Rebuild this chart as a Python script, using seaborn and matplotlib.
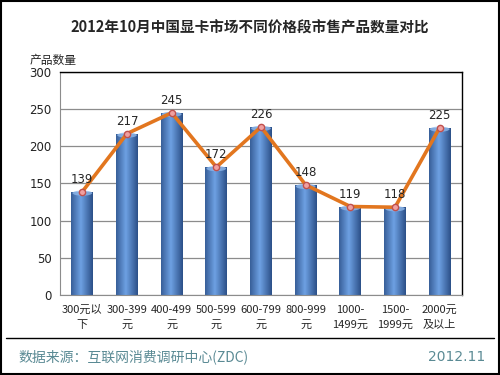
import numpy as np
import pandas as pd
import matplotlib
matplotlib.use("Agg")
import matplotlib.pyplot as plt
import seaborn as sns
from matplotlib.patches import Rectangle, Ellipse

categories = ["300元以\n下", "300-399\n元", "400-499\n元", "500-599\n元", "600-799\n元",
              "800-999\n元", "1000-\n1499元", "1500-\n1999元", "2000元\n及以上"]
counts = [139, 217, 245, 172, 226, 148, 119, 118, 225]

sns.set_style("white")
plt.rcParams['font.family'] = ['Noto Sans CJK SC', 'DejaVu Sans']

df = pd.DataFrame({"cat": categories, "n": counts})

fig = plt.figure(figsize=(5, 3.75), dpi=100)
ax = fig.add_axes([0.12, 0.2133, 0.804, 0.595])

sns.barplot(data=df, x="cat", y="n", color="#4a7ab8", width=0.49, ax=ax, zorder=2)

# gradient fill over each bar
grad = np.linspace(0, 1, 64)
shade = np.clip(1 - np.abs(grad - 0.45) * 1.8, 0, 1)
dark = np.array([0.17, 0.31, 0.53])
light = np.array([0.43, 0.63, 0.89])
img = (dark[None, :] + (light - dark)[None, :] * shade[:, None])[None, :, :]
for p in ax.patches:
    x0, w, h = p.get_x(), p.get_width(), p.get_height()
    p.set_visible(False)
    im = ax.imshow(img, extent=[x0, x0 + w, 0, h], aspect="auto", zorder=2)
    im.set_clip_path(Rectangle((x0, 0), w, h, transform=ax.transData))
    ax.add_patch(Ellipse((x0 + w / 2, h - 2), w * 0.9, 7,
                         color="#8fb8ea", alpha=0.8, zorder=3, lw=0))

sns.lineplot(x=np.arange(len(counts)), y=counts, color="#e2761f", lw=2.6, ax=ax,
             marker="o", markersize=4.5, markerfacecolor="#f0a0a0",
             markeredgecolor="#c0504d", markeredgewidth=1, zorder=4)

for i, v in enumerate(counts):
    ax.text(i, v + 8, str(v), ha="center", va="bottom", fontsize=8.5,
            family="DejaVu Sans", zorder=5)

ax.set_ylim(0, 300)
ax.set_xlim(-0.5, len(counts) - 0.5)
ax.set_yticks(range(0, 301, 50))
ax.yaxis.grid(True, color="#8c8c8c", lw=0.9, zorder=0)
ax.set_axisbelow(True)
ax.set_xlabel("")
ax.set_ylabel("")
ax.tick_params(axis="y", labelsize=8.5, length=0, pad=6, labelcolor="#222222")
ax.tick_params(axis="x", labelsize=8, length=0, pad=7)
ax.set_yticklabels([str(t) for t in range(0, 301, 50)], family="DejaVu Sans")
for lab in ax.get_xticklabels():
    lab.set_linespacing(1.6)
for s in ["left", "bottom"]:
    ax.spines[s].set_color("#8c8c8c")
for s in ["top", "right"]:
    ax.spines[s].set_color("black")
    ax.spines[s].set_linewidth(1)

fig.text(0.5, 0.928, "2012年10月中国显卡市场不同价格段市售产品数量对比", ha="center",
         va="center", fontsize=10.5, fontweight="bold")
fig.text(0.06, 0.84, "产品数量", ha="left", va="center", fontsize=8.5)

fig.add_artist(plt.Line2D([0.012, 0.988], [0.099, 0.099], color="black", lw=1))
fig.text(0.036, 0.048, "数据来源：互联网消费调研中心(ZDC)", ha="left", va="center",
         fontsize=10, color="#5a8a94")
fig.text(0.97, 0.048, "2012.11", ha="right", va="center", fontsize=10, color="#5a8a94",
         family="DejaVu Sans")

fig.add_artist(Rectangle((0.002, 0.003), 0.996, 0.994, transform=fig.transFigure,
                         fill=False, edgecolor="black", lw=1.5))

fig.savefig("out.png", dpi=100)
